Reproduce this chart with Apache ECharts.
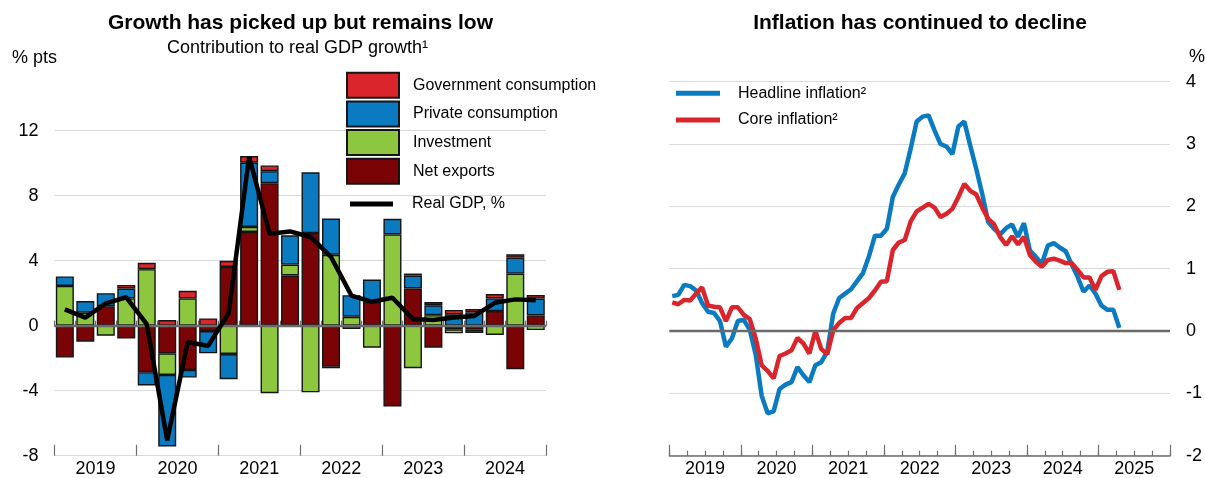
<!DOCTYPE html>
<html>
<head>
<meta charset="utf-8">
<script src="https://cdn.jsdelivr.net/npm/echarts@6/dist/echarts.min.js"></script>
<style>
html,body{margin:0;padding:0;background:#fff;}
#chart{width:1205px;height:478px;}
</style>
</head>
<body>
<div id="chart"></div>
<script>
// ---------- Left panel: contributions to real GDP growth (quarterly) ----------
const quarters = ['2019Q1','2019Q2','2019Q3','2019Q4','2020Q1','2020Q2','2020Q3','2020Q4',
  '2021Q1','2021Q2','2021Q3','2021Q4','2022Q1','2022Q2','2022Q3','2022Q4',
  '2023Q1','2023Q2','2023Q3','2023Q4','2024Q1','2024Q2','2024Q3','2024Q4'];
const leftYears = ['2019','2020','2021','2022','2023','2024'];
const netExports = [-1.96,-0.98,1.2,-0.78,-2.86,-1.7,-2.72,-0.33,3.62,5.77,8.77,3.09,5.7,-2.52,0,1.47,-4.97,2.29,-1.35,-0.22,-0.25,0.9,-2.68,0.63];
const investment = [2.45,0.8,-0.62,1.68,3.48,-1.33,1.68,0,-1.74,0.31,-4.15,0.67,-4.1,4.36,0.55,-1.35,5.62,-2.62,0.65,-0.25,-0.2,-0.57,3.21,-0.27];
const privCons = [0.58,0.72,0.8,0.61,-0.82,-4.4,-0.47,-1.37,-1.55,3.95,0.74,1.8,3.74,2.23,1.33,1.37,0.96,0.8,0.61,0.7,0.82,0.78,0.98,1.04];
const govCons = [0,0,0,0.22,0.39,0.35,0.47,0.45,0.37,0.41,0.35,0,0,-0.1,-0.2,0,0,0.12,0.2,0.27,0.2,0.27,0.2,0.22];
const realGDP = [1.0,0.5,1.37,1.75,0.1,-7.05,-1.02,-1.23,0.76,10.4,5.66,5.8,5.46,4.23,1.85,1.47,1.72,0.41,0.35,0.51,0.6,1.41,1.62,1.57];

// ---------- Right panel: inflation (monthly, from Jan 2019) ----------
const rightYears = ['2019','2020','2021','2022','2023','2024','2025'];
const headline = [0.56,0.58,0.74,0.72,0.65,0.45,0.31,0.29,0.16,-0.25,
  -0.12,0.16,0.18,0.02,-0.38,-1.04,-1.32,-1.29,-0.93,-0.86,
  -0.82,-0.58,-0.71,-0.82,-0.55,-0.50,-0.33,0.28,0.53,0.60,
  0.67,0.80,0.93,1.20,1.53,1.53,1.64,2.15,2.35,2.53,
  2.93,3.36,3.44,3.46,3.22,3.00,2.96,2.84,3.28,3.36,
  2.97,2.60,2.20,1.75,1.64,1.55,1.65,1.71,1.51,1.73,
  1.29,1.19,1.08,1.37,1.41,1.34,1.28,1.07,0.87,0.63,
  0.73,0.60,0.41,0.34,0.34,0.05];
const core = [0.46,0.43,0.50,0.49,0.60,0.70,0.41,0.39,0.38,0.16,
  0.38,0.38,0.26,0.19,-0.12,-0.55,-0.64,-0.76,-0.40,-0.36,
  -0.31,-0.11,-0.20,-0.36,0.00,-0.29,-0.37,0.01,0.13,0.21,
  0.21,0.37,0.45,0.53,0.65,0.79,0.80,1.30,1.42,1.46,
  1.76,1.92,1.98,2.04,1.98,1.83,1.88,1.96,2.15,2.36,
  2.25,2.19,1.98,1.80,1.71,1.51,1.38,1.52,1.39,1.51,
  1.22,1.11,1.03,1.14,1.16,1.13,1.09,1.09,0.98,0.86,
  0.86,0.66,0.88,0.95,0.96,0.66];

// category labels for the right panel's month and quarter axes
const months = [];
const rightQuarters = [];
rightYears.forEach(y => {
  for (let m = 1; m <= 12; m++) months.push(y + '-' + (m < 10 ? '0' + m : m));
  for (let q = 1; q <= 4; q++) rightQuarters.push(y + 'Q' + q);
});

const FONT = '"Liberation Sans", Arial, sans-serif';
const C_GOV = '#d9252b', C_PRIV = '#0a7bc1', C_INV = '#8dc63f', C_NX = '#7a0305';
const AXIS_GRAY = '#6e6e6e';
const GRID_GRAY = '#d9d9d9';

const chart = echarts.init(document.getElementById('chart'), null, {renderer: 'canvas'});

function barSeries(name, data, color) {
  return {
    type: 'bar', name: name, xAxisIndex: 0, yAxisIndex: 0, stack: 'contrib',
    barWidth: '88%',
    itemStyle: {color: color, borderColor: '#151515', borderWidth: 1.4},
    data: data.map(v => v === 0 ? '-' : v)
  };
}

const option = {
  animation: false,
  textStyle: {fontFamily: FONT, color: '#000'},
  grid: [
    {left: 54.6, width: 491.4, top: 130.7, height: 325},
    {left: 669.3, width: 502.4, top: 81.7, height: 374}
  ],
  xAxis: [
    {type: 'category', gridIndex: 0, data: quarters, position: 'bottom',
      axisLine: {show: true, lineStyle: {color: AXIS_GRAY, width: 1.5}},
      axisTick: {show: true, inside: true, length: 5, interval: 0, lineStyle: {color: AXIS_GRAY, width: 1.2}},
      axisLabel: {show: false}, splitLine: {show: false}},
    {type: 'category', gridIndex: 0, data: leftYears, position: 'bottom',
      axisLine: {show: false},
      axisTick: {show: true, inside: true, length: 11, interval: 0, lineStyle: {color: AXIS_GRAY, width: 1.2}},
      axisLabel: {show: true, interval: 0, fontSize: 18, color: '#000', margin: 4, fontFamily: FONT},
      splitLine: {show: false}},
    {type: 'category', gridIndex: 1, data: months, position: 'bottom',
      axisLine: {show: false}, axisTick: {show: false}, axisLabel: {show: false}, splitLine: {show: false}},
    {type: 'category', gridIndex: 1, data: rightQuarters, position: 'bottom',
      axisLine: {show: true, lineStyle: {color: AXIS_GRAY, width: 1.5}},
      axisTick: {show: true, inside: true, length: 5, interval: 0, lineStyle: {color: AXIS_GRAY, width: 1.2}},
      axisLabel: {show: false}, splitLine: {show: false}},
    {type: 'category', gridIndex: 1, data: rightYears, position: 'bottom',
      axisLine: {show: false},
      axisTick: {show: true, inside: true, length: 11, interval: 0, lineStyle: {color: AXIS_GRAY, width: 1.2}},
      axisLabel: {show: true, interval: 0, fontSize: 18, color: '#000', margin: 4, fontFamily: FONT},
      splitLine: {show: false}}
  ],
  yAxis: [
    {type: 'value', gridIndex: 0, min: -8, max: 12, interval: 4, position: 'left',
      axisLine: {show: false}, axisTick: {show: false},
      axisLabel: {fontSize: 18, color: '#000', margin: 16, fontFamily: FONT},
      splitLine: {show: true, lineStyle: {color: GRID_GRAY, width: 1}}},
    {type: 'value', gridIndex: 1, min: -2, max: 4, interval: 1, position: 'right',
      axisLine: {show: false}, axisTick: {show: false},
      axisLabel: {fontSize: 18, color: '#000', margin: 16, fontFamily: FONT},
      splitLine: {show: true, lineStyle: {color: GRID_GRAY, width: 1}}}
  ],
  legend: [
    {orient: 'vertical', left: 346, top: 71.7, padding: 0, itemWidth: 52, itemHeight: 25, itemGap: 1.7,
      icon: 'rect', selectedMode: false,
      data: ['Government consumption', 'Private consumption', 'Investment', 'Net exports'],
      textStyle: {fontSize: 16, color: '#000', fontFamily: FONT, padding: [0, 0, 0, 9]}},
    {orient: 'vertical', left: 350, top: 194, padding: 0, itemWidth: 43, itemHeight: 5,
      icon: 'rect', selectedMode: false, data: ['Real GDP, %'],
      itemStyle: {color: '#000', borderWidth: 0},
      textStyle: {fontSize: 16, lineHeight: 20, color: '#000', fontFamily: FONT, padding: [0, 0, 0, 14]}},
    {orient: 'vertical', left: 676, top: 83.3, padding: 0, itemWidth: 44, itemHeight: 5, itemGap: 6.7,
      icon: 'rect', selectedMode: false, data: ['Headline inflation²', 'Core inflation²'],
      itemStyle: {borderWidth: 0},
      textStyle: {fontSize: 16, lineHeight: 20, color: '#000', fontFamily: FONT, padding: [0, 0, 0, 13]}}
  ],
  graphic: [
    {type: 'text', x: 300.5, y: 23, style: {text: 'Growth has picked up but remains low', fontSize: 21, fontWeight: 'bold', fontFamily: FONT, fill: '#000', align: 'center', verticalAlign: 'middle'}},
    {type: 'text', x: 297.5, y: 48, style: {text: 'Contribution to real GDP growth¹', fontSize: 18, fontFamily: FONT, fill: '#000', align: 'center', verticalAlign: 'middle'}},
    {type: 'text', x: 12, y: 58, style: {text: '% pts', fontSize: 18, fontFamily: FONT, fill: '#000', align: 'left', verticalAlign: 'middle'}},
    {type: 'text', x: 920, y: 23, style: {text: 'Inflation has continued to decline', fontSize: 21, fontWeight: 'bold', fontFamily: FONT, fill: '#000', align: 'center', verticalAlign: 'middle'}},
    {type: 'text', x: 1197, y: 57, style: {text: '%', fontSize: 18, fontFamily: FONT, fill: '#000', align: 'center', verticalAlign: 'middle'}}
  ],
  series: [
    barSeries('Net exports', netExports, C_NX),
    barSeries('Investment', investment, C_INV),
    barSeries('Private consumption', privCons, C_PRIV),
    barSeries('Government consumption', govCons, C_GOV),
    {type: 'line', name: 'Real GDP, %', xAxisIndex: 0, yAxisIndex: 0, data: realGDP,
      symbol: 'none', z: 5,
      itemStyle: {color: '#000'},
      lineStyle: {color: '#000', width: 4.5},
      markLine: {silent: true, symbol: 'none', label: {show: false}, z: 4,
        lineStyle: {color: '#6a6a6a', width: 2.4, type: 'solid'}, data: [{yAxis: 0}]}},
    {type: 'line', name: 'Headline inflation²', xAxisIndex: 2, yAxisIndex: 1, data: headline,
      symbol: 'none', itemStyle: {color: C_PRIV},
      lineStyle: {color: C_PRIV, width: 4.5},
      markLine: {silent: true, symbol: 'none', label: {show: false},
        lineStyle: {color: '#6a6a6a', width: 2.4, type: 'solid'}, data: [{yAxis: 0}]}},
    {type: 'line', name: 'Core inflation²', xAxisIndex: 2, yAxisIndex: 1, data: core,
      symbol: 'none', itemStyle: {color: C_GOV},
      lineStyle: {color: C_GOV, width: 4.5}}
  ]
};
chart.setOption(option);
</script>
</body>
</html>
